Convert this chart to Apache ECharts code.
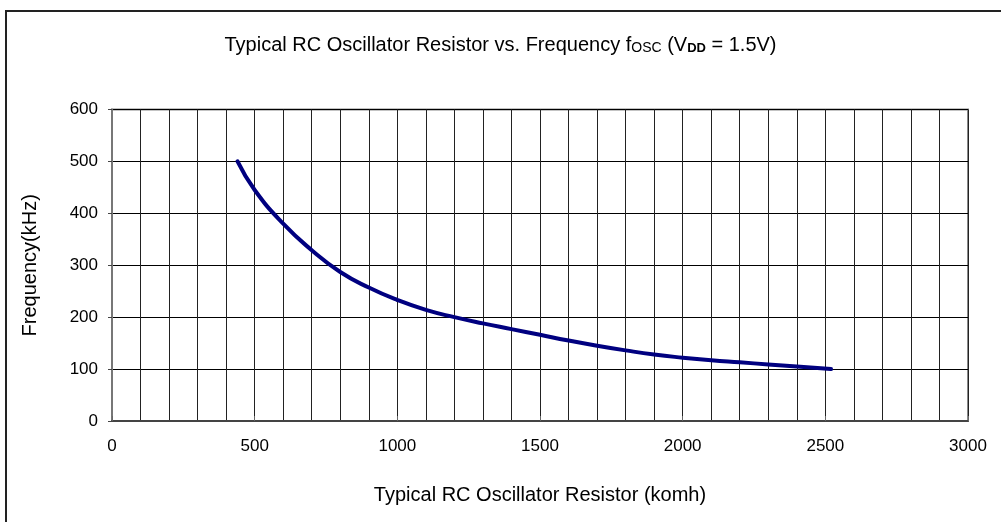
<!DOCTYPE html>
<html>
<head>
<meta charset="utf-8">
<script src="https://cdn.jsdelivr.net/npm/echarts@6/dist/echarts.min.js"></script>
<style>
html,body{margin:0;padding:0;background:#fff;}
#chart{width:1001px;height:522px;}
</style>
</head>
<body>
<div id="chart"></div>
<script>
// Data
const resistorKohm = [440, 500, 600, 700, 800, 900, 1000, 1100, 1200, 1300, 1400, 1500, 1600, 1700, 1800, 1900, 2000, 2100, 2200, 2300, 2400, 2520];
const frequencyKHz = [500, 445, 380, 329, 287, 257, 233, 214, 200, 188, 177, 166, 155, 145, 136, 128, 122, 117, 113, 109, 105, 100];
const xTickLabels = ['0', '500', '1000', '1500', '2000', '2500', '3000'];
const yTickLabels = ['0', '100', '200', '300', '400', '500', '600'];

const points = resistorKohm.map((r, i) => [r, frequencyKHz[i]]);
const FONT = 'Liberation Sans, Arial, sans-serif';

const chart = echarts.init(document.getElementById('chart'), null, {renderer: 'canvas'});
chart.setOption({
  backgroundColor: '#fff',
  animation: false,
  title: {
    text: '{a|Typical RC Oscillator Resistor vs. Frequency f}{s|OSC}{a| (V}{b|DD}{a| = 1.5V)}',
    left: 'center',
    top: 35,
    padding: 0,
    textStyle: {
      fontWeight: 'normal',
      rich: {
        a: {fontFamily: FONT, fontSize: 20, fontWeight: 'normal', color: '#000', verticalAlign: 'bottom'},
        s: {fontFamily: FONT, fontSize: 14, fontWeight: 'normal', color: '#000', verticalAlign: 'bottom'},
        b: {fontFamily: FONT, fontSize: 13, fontWeight: 'bold', color: '#000', verticalAlign: 'bottom'}
      }
    }
  },
  graphic: [{
    type: 'rect',
    shape: {x: 6, y: 11, width: 1100, height: 700},
    style: {fill: 'none', stroke: '#222', lineWidth: 2},
    silent: true
  }],
  grid: {
    left: 112, right: 33, top: 109.5, bottom: 101,
    show: true, borderColor: '#888', borderWidth: 2, backgroundColor: 'transparent'
  },
  xAxis: {
    type: 'value',
    min: 0, max: 3000, interval: 500,
    name: 'Typical RC Oscillator Resistor (komh)',
    nameLocation: 'middle',
    nameGap: 64,
    nameTextStyle: {fontFamily: FONT, fontSize: 20, color: '#000'},
    axisLine: {show: true, onZero: false, lineStyle: {color: '#444', width: 2}},
    axisTick: {show: true, inside: true, length: 5, lineStyle: {color: '#666'}},
    minorTick: {show: false, splitNumber: 5},
    axisLabel: {
      margin: 17, fontFamily: FONT, fontSize: 17, color: '#000',
      formatter: v => xTickLabels[Math.round(v / 500)] || ''
    },
    splitLine: {show: true, lineStyle: {color: '#222', width: 1}},
    minorSplitLine: {show: true, lineStyle: {color: '#222', width: 1}}
  },
  yAxis: {
    type: 'value',
    min: 0, max: 600, interval: 100,
    name: 'Frequency(kHz)',
    nameLocation: 'middle',
    nameGap: 72,
    nameRotate: 90,
    nameTextStyle: {fontFamily: FONT, fontSize: 20, color: '#000'},
    axisLine: {show: true, lineStyle: {color: '#777', width: 2}},
    axisTick: {show: true, inside: false, length: 4, lineStyle: {color: '#444'}},
    axisLabel: {
      margin: 14, fontFamily: FONT, fontSize: 17, color: '#000',
      formatter: v => yTickLabels[Math.round(v / 100)] || ''
    },
    splitLine: {show: true, lineStyle: {color: '#000', width: 1}}
  },
  series: [{
    type: 'line',
    data: points,
    smooth: 0.5,
    showSymbol: false,
    lineStyle: {color: '#000080', width: 4, cap: 'round'},
    itemStyle: {color: '#000080'}
  }]
});
</script>
</body>
</html>
